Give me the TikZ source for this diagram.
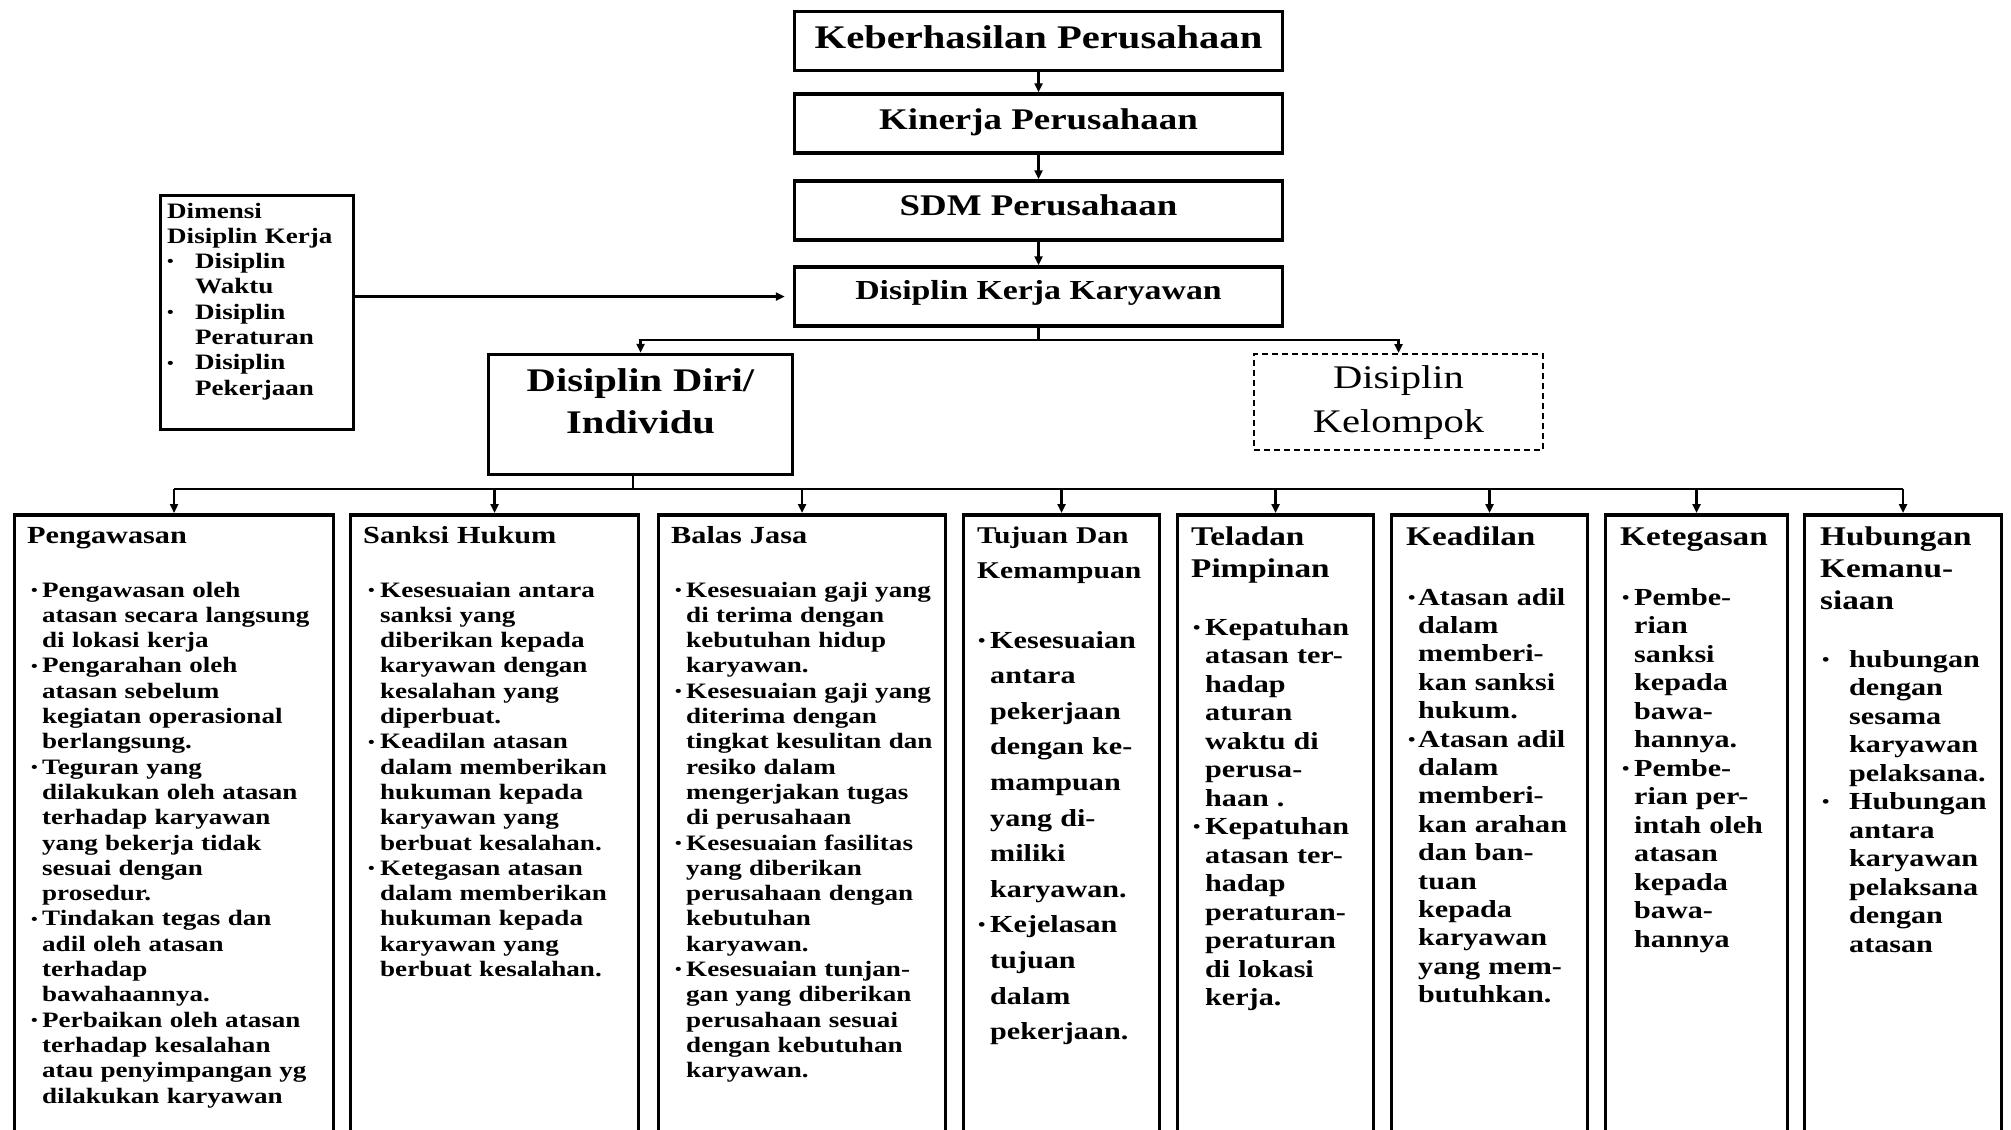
\documentclass[tikz,border=0pt]{standalone}
\usepackage{fontspec}
\setmainfont{Liberation Serif}[FakeStretch=1.23]
\usetikzlibrary{arrows.meta}

\newlength{\bw}
\newcommand{\itm}{\makebox[\bw][l]{\raisebox{0.08em}{\scalebox{0.7}{\textbullet}}}}
\newcommand{\ind}{\hspace*{\bw}}
\newcommand{\fsz}[2]{\fontsize{#1}{#2}\selectfont\bfseries}

\tikzset{
  >={Triangle[length=9pt,width=8pt]},
  conn/.style={line width=2.5pt},
  boxframe/.style={draw, line width=3.5pt, inner sep=0pt},
  topbox/.style={boxframe, minimum width=488pt, minimum height=59pt, text height=#1, text depth=0pt},
  topbox/.default=8pt,
  dashbox/.style={draw, line width=2pt, dash pattern=on 6pt off 4pt, inner sep=0pt},
  colbox/.style={boxframe, minimum height=660pt, anchor=north},
  coltitle/.style={anchor=base west, text width=320pt, align=left, inner sep=0pt},
  body/.style={anchor=base west, text width=320pt, align=left, inner sep=0pt,
    execute at begin node={\setlength{\bw}{#1}}},
  body/.default=11pt
}

\begin{document}
\begin{tikzpicture}[x=1pt, y=-1pt]
\newcommand{\rowtop}{513}; % top of the lower row
\useasboundingbox (0,0) rectangle (2011,1130);
\clip (0,0) rectangle (2011,1130);

% main chain
\node[topbox=15pt, font=\fsz{33}{38}] (keb) at (1038.5,41) {Keberhasilan Perusahaan};
\node[topbox=11pt, font=\fsz{30}{35}] (kin) at (1038.5,123.5) {Kinerja Perusahaan};
\node[topbox=9pt, font=\fsz{30}{35}] (sdm) at (1038.5,210.5) {SDM Perusahaan};
\node[topbox=5pt, font=\fsz{27.5}{32}] (dkk) at (1038.5,296.5) {Disiplin Kerja Karyawan};

\draw[conn,->] (keb) -- (kin);
\draw[conn,->] (kin) -- (sdm);
\draw[conn,->] (sdm) -- (dkk);

% dimensions
\node[boxframe, minimum width=193pt, minimum height=234pt] (dim) at (257,312.5) {};
\node[body=28pt, font=\fsz{22}{25.3}] (dimT) at (167,218) {Dimensi\\
Disiplin Kerja\\
\itm Disiplin\\ \ind Waktu\\
\itm Disiplin\\ \ind Peraturan\\
\itm Disiplin\\ \ind Pekerjaan};
\draw[conn,->,shorten >=8pt] (dim.east |- dkk.west) -- (dkk.west);

% two kinds of discipline
\node[boxframe, minimum width=304pt, minimum height=120pt] (diri) at (640.5,414.5) {};
\node[anchor=base, text width=300pt, align=center, inner sep=0pt, font=\fsz{33}{42}] (diriT) at (640.5,391) {Disiplin Diri/\\Individu};
\node[dashbox, minimum width=289pt, minimum height=96pt] (kel) at (1398.5,402) {};
\node[anchor=base, text width=280pt, align=center, inner sep=0pt, font=\fontsize{33}{44}\selectfont] (kelT) at (1398.5,388) {Disiplin\\Kelompok};

\coordinate (br1) at (1038.5,340);
\draw[conn] (dkk.south) -- (br1);
\draw[conn,->] (br1) -| (diri.north);
\draw[conn,->] (br1) -| (kel.north);

% lower row
\node[colbox, minimum width=319pt] (peng) at (174,\rowtop) {};
\node[colbox, minimum width=288pt] (sank) at (494.5,\rowtop) {};
\node[colbox, minimum width=287pt] (bala) at (802,\rowtop) {};
\node[colbox, minimum width=196pt] (tuju) at (1061.5,\rowtop) {};
\node[colbox, minimum width=196pt] (tela) at (1275.5,\rowtop) {};
\node[colbox, minimum width=196pt] (kead) at (1489.5,\rowtop) {};
\node[colbox, minimum width=182pt] (kete) at (1696.5,\rowtop) {};
\node[colbox, minimum width=197pt] (hubu) at (1903,\rowtop) {};

\coordinate (br2) at (633,489);
\draw[conn] (br2 |- diri.south) -- (br2);
\draw[conn] (peng.north |- br2) -- (hubu.north |- br2);
\foreach \b in {peng,sank,bala,tuju,tela,kead,kete,hubu}
  \draw[conn,->] (\b.north |- br2) -- (\b.north);

% titles
\node[coltitle, font=\fsz{24.6}{30}] (pengT) at (27,543) {Pengawasan};
\node[coltitle, font=\fsz{24.6}{30}] (sankT) at (363,543) {Sanksi Hukum};
\node[coltitle, font=\fsz{24.6}{30}] (balaT) at (671,543) {Balas Jasa};
\node[coltitle, font=\fsz{24}{35}] (tujuT) at (977,543) {Tujuan Dan\\Kemampuan};
\node[coltitle, font=\fsz{27}{32}] (telaT) at (1191,545) {Teladan\\Pimpinan};
\node[coltitle, font=\fsz{27}{32}] (keadT) at (1406,545) {Keadilan};
\node[coltitle, font=\fsz{27}{32}] (keteT) at (1620,545) {Ketegasan};
\node[coltitle, font=\fsz{27}{32}] (hubuT) at (1820,545) {Hubungan\\Kemanu-\\siaan};

% items
\node[body=11pt, font=\fsz{22}{25.3}] (pengB) at (31,597) {\itm Pengawasan oleh\\
\ind atasan secara langsung\\ \ind di lokasi kerja\\
\itm Pengarahan oleh\\ \ind atasan sebelum\\ \ind kegiatan operasional\\ \ind berlangsung.\\
\itm Teguran yang\\ \ind dilakukan oleh atasan\\ \ind terhadap karyawan\\ \ind yang bekerja tidak\\ \ind sesuai dengan\\ \ind prosedur.\\
\itm Tindakan tegas dan\\ \ind adil oleh atasan\\ \ind terhadap\\ \ind bawahaannya.\\
\itm Perbaikan oleh atasan\\ \ind terhadap kesalahan\\ \ind atau penyimpangan yg\\ \ind dilakukan karyawan};

\node[body=12pt, font=\fsz{22}{25.3}] (sankB) at (368,597) {\itm Kesesuaian antara\\
\ind sanksi yang\\ \ind diberikan kepada\\ \ind karyawan dengan\\ \ind kesalahan yang\\ \ind diperbuat.\\
\itm Keadilan atasan\\ \ind dalam memberikan\\ \ind hukuman kepada\\ \ind karyawan yang\\ \ind berbuat kesalahan.\\
\itm Ketegasan atasan\\ \ind dalam memberikan\\ \ind hukuman kepada\\ \ind karyawan yang\\ \ind berbuat kesalahan.};

\node[body=11pt, font=\fsz{22}{25.3}] (balaB) at (675,597) {\itm Kesesuaian gaji yang\\
\ind di terima dengan\\ \ind kebutuhan hidup\\ \ind karyawan.\\
\itm Kesesuaian gaji yang\\ \ind diterima dengan\\ \ind tingkat kesulitan dan\\ \ind resiko dalam\\ \ind mengerjakan tugas\\ \ind di perusahaan\\
\itm Kesesuaian fasilitas\\ \ind yang diberikan\\ \ind perusahaan dengan\\ \ind kebutuhan\\ \ind karyawan.\\
\itm Kesesuaian tunjan-\\ \ind gan yang diberikan\\ \ind perusahaan sesuai\\ \ind dengan kebutuhan\\ \ind karyawan.};

\node[body=12pt, font=\fsz{24.5}{35.6}] (tujuB) at (978,648) {\itm Kesesuaian\\
\ind antara\\ \ind pekerjaan\\ \ind dengan ke-\\ \ind mampuan\\ \ind yang di-\\ \ind miliki\\ \ind karyawan.\\
\itm Kejelasan\\ \ind tujuan\\ \ind dalam\\ \ind pekerjaan.};

\node[body=12pt, font=\fsz{24.5}{28.5}] (telaB) at (1193,635) {\itm Kepatuhan\\
\ind atasan ter-\\ \ind hadap\\ \ind aturan\\ \ind waktu di\\ \ind perusa-\\ \ind haan .\\
\itm Kepatuhan\\ \ind atasan ter-\\ \ind hadap\\ \ind peraturan-\\ \ind peraturan\\ \ind di lokasi\\ \ind kerja.};

\node[body=10pt, font=\fsz{24.5}{28.4}] (keadB) at (1408,605) {\itm Atasan adil\\
\ind dalam\\ \ind memberi-\\ \ind kan sanksi\\ \ind hukum.\\
\itm Atasan adil\\ \ind dalam\\ \ind memberi-\\ \ind kan arahan\\ \ind dan ban-\\ \ind tuan\\ \ind kepada\\ \ind karyawan\\ \ind yang mem-\\ \ind butuhkan.};

\node[body=12pt, font=\fsz{24.5}{28.5}] (keteB) at (1622,605) {\itm Pembe-\\
\ind rian\\ \ind sanksi\\ \ind kepada\\ \ind bawa-\\ \ind hannya.\\
\itm Pembe-\\ \ind rian per-\\ \ind intah oleh\\ \ind atasan\\ \ind kepada\\ \ind bawa-\\ \ind hannya};

\node[body=27pt, font=\fsz{24.5}{28.5}] (hubuB) at (1822,667) {\itm hubungan\\
\ind dengan\\ \ind sesama\\ \ind karyawan\\ \ind pelaksana.\\
\itm Hubungan\\ \ind antara\\ \ind karyawan\\ \ind pelaksana\\ \ind dengan\\ \ind atasan};
\end{tikzpicture}
\end{document}
